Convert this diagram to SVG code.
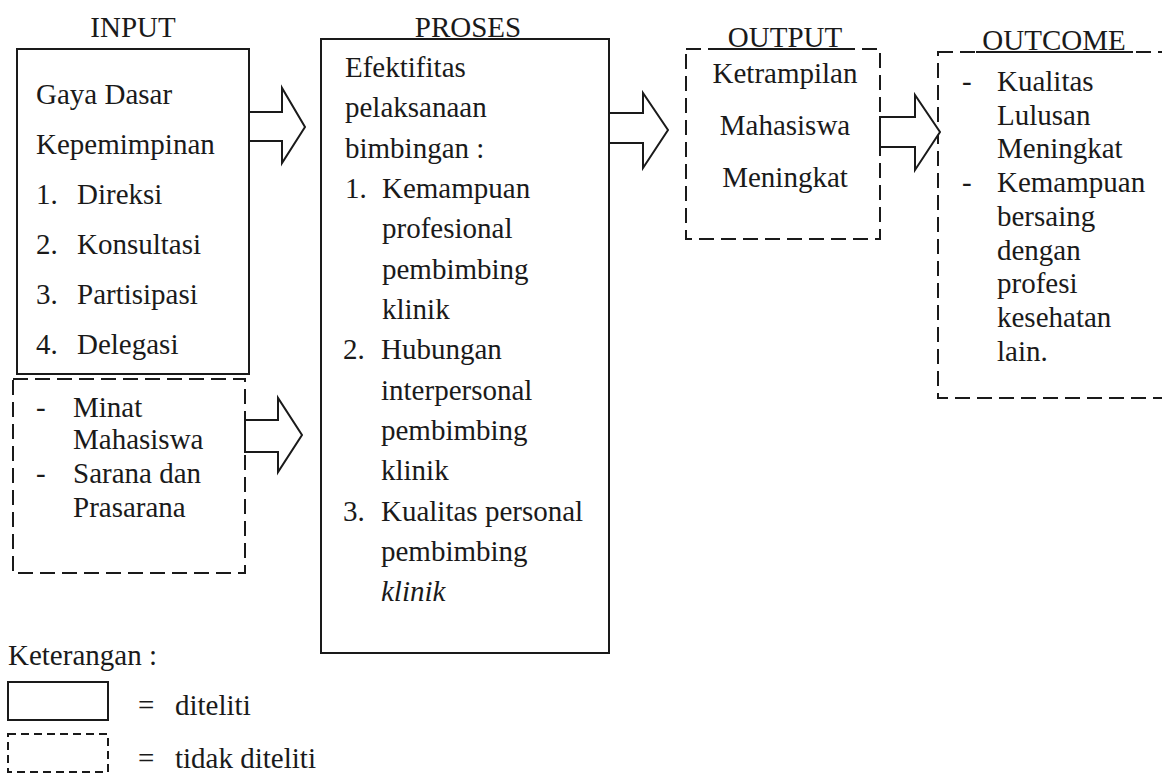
<svg xmlns="http://www.w3.org/2000/svg" width="1162" height="773" viewBox="0 0 1162 773">
<style>
text{font-family:"Liberation Serif","Times New Roman",serif;font-size:29px;fill:#1a1a1a}
.solid{fill:#fff;stroke:#1a1a1a;stroke-width:2}
.dash{fill:#fff;stroke:#1a1a1a;stroke-width:2;stroke-dasharray:15 7}
.ldash{fill:none;stroke:#1a1a1a;stroke-width:2;stroke-dasharray:8 5}
.arrow{fill:#fff;stroke:#1a1a1a;stroke-width:2;stroke-linejoin:miter}
.mid{text-anchor:middle}
.ul{stroke:#1a1a1a;stroke-width:2}
</style>
<rect width="1162" height="773" fill="#fff"/>
<g id="input">
<text class="mid" x="133" y="37">INPUT</text>
<rect class="solid" x="17" y="49" width="232" height="325"/>
<text x="36" y="104">Gaya Dasar</text>
<text x="36" y="154">Kepemimpinan</text>
<text x="36" y="204">1.</text><text x="77" y="204">Direksi</text>
<text x="36" y="254">2.</text><text x="77" y="254">Konsultasi</text>
<text x="36" y="304">3.</text><text x="77" y="304">Partisipasi</text>
<text x="36" y="354">4.</text><text x="77" y="354">Delegasi</text>
</g>
<g id="input-other">
<rect class="dash" x="13" y="379" width="232" height="194"/>
<text x="36" y="417">-</text><text x="73" y="417">Minat</text>
<text x="73" y="449">Mahasiswa</text>
<text x="36" y="483">-</text><text x="73" y="483">Sarana dan</text>
<text x="73" y="517">Prasarana</text>
</g>
<g id="proses">
<rect class="solid" x="321" y="39" width="288" height="614"/>
<text class="mid" x="468" y="37">PROSES</text>
<text x="345" y="77">Efektifitas</text>
<text x="345" y="117">pelaksanaan</text>
<text x="345" y="158">bimbingan :</text>
<text x="345" y="198">1.</text><text x="382" y="198">Kemampuan</text>
<text x="382" y="238">profesional</text>
<text x="382" y="279">pembimbing</text>
<text x="382" y="319">klinik</text>
<text x="343" y="359">2.</text><text x="381" y="359">Hubungan</text>
<text x="381" y="400">interpersonal</text>
<text x="381" y="440">pembimbing</text>
<text x="381" y="480">klinik</text>
<text x="343" y="521">3.</text><text x="381" y="521">Kualitas personal</text>
<text x="381" y="561">pembimbing</text>
<text x="381" y="601" font-style="italic">klinik</text>
</g>
<g id="output">
<rect class="dash" x="686" y="49" width="194" height="190"/>
<line class="ul" x1="712" y1="49" x2="850" y2="49"/>
<text class="mid" x="785" y="47">OUTPUT</text>
<text class="mid" x="785" y="83">Ketrampilan</text>
<text class="mid" x="785" y="135">Mahasiswa</text>
<text class="mid" x="785" y="187">Meningkat</text>
</g>
<g id="outcome">
<rect class="dash" x="938" y="52" width="250" height="346"/>
<line class="ul" x1="976" y1="52" x2="1133" y2="52"/>
<text class="mid" x="1054" y="50">OUTCOME</text>
<text x="962" y="91">-</text><text x="997" y="91">Kualitas</text>
<text x="997" y="125">Lulusan</text>
<text x="997" y="158">Meningkat</text>
<text x="962" y="192">-</text><text x="997" y="192">Kemampuan</text>
<text x="997" y="226">bersaing</text>
<text x="997" y="260">dengan</text>
<text x="997" y="293">profesi</text>
<text x="997" y="327">kesehatan</text>
<text x="997" y="361">lain.</text>
</g>
<g id="connectors">
<polygon class="arrow" points="249,112 282,112 282,88 305,127 282,163 282,141 249,141"/>
<polygon class="arrow" points="245,420 278,420 278,398 302,435 278,472 278,452 245,452"/>
<polygon class="arrow" points="609,113 643,113 643,93 668,130 643,168 643,143 609,143"/>
<polygon class="arrow" points="880,117 915,117 915,95 940,132 915,170 915,147 880,147"/>
</g>
<g id="legend">
<text x="8" y="665">Keterangan :</text>
<rect class="solid" x="8" y="682" width="100" height="38"/>
<text x="138" y="715">=</text><text x="175" y="715">diteliti</text>
<rect class="ldash" x="8" y="734" width="100" height="38"/>
<text x="138" y="768">=</text><text x="175" y="768">tidak diteliti</text>
</g>
</svg>
